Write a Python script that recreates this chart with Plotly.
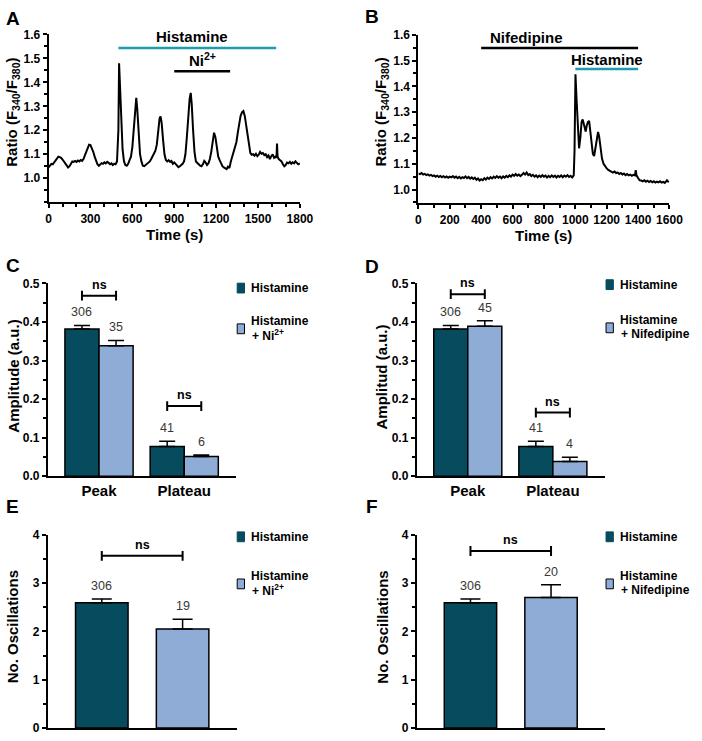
import plotly.graph_objects as go

W, H = 702, 741
FONT = 'Liberation Sans'
DARK = '#074b5e'
LIGHT = '#8eacd6'
TEAL = '#1f9db0'
GRAY = '#383838'

# ---------------- Panel A trace (Histamine + Ni2+) ----------------
a_time = [0, 10, 20, 30, 40, 50, 60, 70, 80, 90, 100, 110, 120, 130, 140, 150, 160, 170, 180, 190,
          200, 210, 220, 230, 240, 250, 260, 270, 280, 290, 300, 310, 320, 330, 340, 350, 360, 370, 380, 390,
          400, 410, 420, 430, 440, 450, 460, 470, 480, 490, 500, 505, 512, 520, 530, 540, 550, 560, 570, 580,
          590, 600, 610, 620, 628, 635, 645, 655, 665, 675, 685, 695, 705, 715, 725, 735, 745, 755, 765, 775,
          785, 795, 802, 810, 820, 830, 840, 850, 860, 870, 880, 890, 900, 910, 920, 930, 940, 950, 960, 970,
          980, 990, 1000, 1010, 1018, 1025, 1035, 1045, 1055, 1065, 1075, 1085, 1095, 1105, 1115, 1125, 1135, 1145, 1155, 1165,
          1175, 1185, 1195, 1205, 1215, 1225, 1235, 1245, 1255, 1265, 1275, 1285, 1295, 1305, 1315, 1325, 1335, 1345, 1355, 1365,
          1375, 1385, 1395, 1405, 1415, 1425, 1435, 1445, 1455, 1465, 1475, 1485, 1495, 1505, 1515, 1525, 1535, 1545, 1555, 1565,
          1575, 1585, 1595, 1605, 1615, 1625, 1632, 1636, 1640, 1648, 1658, 1668, 1678, 1688, 1698, 1708, 1718, 1728, 1738, 1748,
          1758, 1768, 1778, 1788, 1800]
a_ratio = [1.045, 1.055, 1.060, 1.058, 1.066, 1.072, 1.080, 1.090, 1.088, 1.085, 1.078, 1.070, 1.062, 1.055, 1.045, 1.050, 1.058, 1.070, 1.068, 1.072,
           1.068, 1.074, 1.070, 1.076, 1.072, 1.080, 1.095, 1.110, 1.125, 1.140, 1.138, 1.125, 1.110, 1.090, 1.072, 1.058, 1.052, 1.058, 1.063, 1.060,
           1.066, 1.062, 1.068, 1.064, 1.058, 1.062, 1.055, 1.060, 1.058, 1.070, 1.200, 1.480, 1.380, 1.220, 1.120, 1.070, 1.055, 1.052, 1.060, 1.075,
           1.090, 1.130, 1.200, 1.290, 1.335, 1.290, 1.170, 1.100, 1.070, 1.052, 1.050, 1.055, 1.060, 1.068, 1.070, 1.080, 1.090, 1.100, 1.115, 1.140,
           1.200, 1.250, 1.258, 1.230, 1.160, 1.100, 1.076, 1.070, 1.075, 1.068, 1.072, 1.060, 1.066, 1.058, 1.052, 1.046, 1.050, 1.055, 1.060, 1.070,
           1.100, 1.170, 1.260, 1.330, 1.356, 1.310, 1.200, 1.110, 1.070, 1.062, 1.058, 1.052, 1.050, 1.058, 1.072, 1.065, 1.055, 1.062, 1.080, 1.110,
           1.160, 1.190, 1.170, 1.120, 1.090, 1.075, 1.062, 1.050, 1.045, 1.040, 1.038, 1.048, 1.042, 1.070, 1.090, 1.100, 1.120, 1.150, 1.190, 1.230,
           1.260, 1.275, 1.280, 1.260, 1.220, 1.170, 1.130, 1.105, 1.098, 1.100, 1.094, 1.102, 1.092, 1.098, 1.110, 1.102, 1.105, 1.096, 1.100, 1.088,
           1.095, 1.080, 1.092, 1.100, 1.085, 1.090, 1.085, 1.145, 1.090, 1.080, 1.075, 1.070, 1.058, 1.050, 1.055, 1.065, 1.062, 1.068, 1.060, 1.066,
           1.062, 1.070, 1.064, 1.058, 1.062]
a_hist_period = [500, 1630]
a_ni_period = [900, 1300]
a_hist_level = 1.544
a_ni_level = 1.446

# ---------------- Panel B trace (Nifedipine + Histamine) ----------------
b_time = [0, 10, 20, 30, 40, 50, 60, 70, 80, 90, 100, 110, 120, 130, 140, 150, 160, 170, 180, 190,
          200, 210, 220, 230, 240, 250, 260, 270, 280, 290, 300, 310, 320, 330, 340, 350, 360, 370, 380, 390,
          400, 410, 420, 430, 440, 450, 460, 470, 480, 490, 500, 510, 520, 530, 540, 550, 560, 570, 580, 590,
          600, 610, 620, 630, 640, 650, 660, 670, 680, 690, 700, 710, 720, 730, 740, 750, 760, 770, 780, 790,
          800, 810, 820, 830, 840, 850, 860, 870, 880, 890, 900, 910, 920, 930, 940, 950, 960, 970, 980, 990,
          995, 1001, 1008, 1016, 1024, 1032, 1040, 1047, 1054, 1060, 1066, 1072, 1080, 1088, 1095, 1104, 1112, 1120, 1128, 1136,
          1145, 1152, 1160, 1170, 1180, 1190, 1200, 1210, 1220, 1230, 1240, 1250, 1260, 1270, 1280, 1290, 1300, 1310, 1320, 1330,
          1340, 1350, 1360, 1370, 1380, 1385, 1390, 1400, 1410, 1420, 1430, 1440, 1450, 1460, 1470, 1480, 1490, 1500, 1510, 1520,
          1530, 1540, 1550, 1560, 1570, 1580, 1585, 1590, 1595]
b_ratio = [1.062, 1.060, 1.064, 1.058, 1.061, 1.056, 1.059, 1.054, 1.057, 1.052, 1.055, 1.050, 1.054, 1.049, 1.053, 1.048, 1.052, 1.047, 1.051, 1.046,
           1.050, 1.047, 1.052, 1.046, 1.050, 1.044, 1.049, 1.043, 1.048, 1.045, 1.051, 1.044, 1.049, 1.042, 1.047, 1.041, 1.046, 1.038, 1.043, 1.035,
           1.040, 1.036, 1.044, 1.039, 1.046, 1.041, 1.048, 1.043, 1.050, 1.045, 1.052, 1.046, 1.050, 1.044, 1.051, 1.046, 1.053, 1.048, 1.055, 1.050,
           1.058, 1.053, 1.060, 1.054, 1.058, 1.052, 1.057, 1.064, 1.058, 1.066, 1.056, 1.060, 1.052, 1.057, 1.050, 1.055, 1.048, 1.054, 1.049, 1.056,
           1.050, 1.054, 1.047, 1.053, 1.048, 1.055, 1.049, 1.054, 1.047, 1.053, 1.049, 1.055, 1.048, 1.054, 1.050, 1.056, 1.049, 1.053, 1.047, 1.055,
           1.150, 1.447, 1.350, 1.220, 1.160, 1.200, 1.262, 1.272, 1.250, 1.230, 1.225, 1.245, 1.262, 1.266, 1.220, 1.170, 1.138, 1.130, 1.160, 1.200,
           1.223, 1.205, 1.160, 1.120, 1.100, 1.090, 1.082, 1.076, 1.072, 1.068, 1.066, 1.070, 1.064, 1.066, 1.060, 1.064, 1.058, 1.062, 1.056, 1.060,
           1.055, 1.058, 1.053, 1.057, 1.055, 1.075, 1.055, 1.045, 1.036, 1.035, 1.032, 1.036, 1.030, 1.034, 1.029, 1.033, 1.028, 1.032, 1.027, 1.031,
           1.028, 1.032, 1.027, 1.030, 1.026, 1.033, 1.038, 1.030, 1.034]
b_nif_period = [400, 1400]
b_hist_period = [1000, 1400]
b_nif_level = 1.549
b_hist_level = 1.467

# ---------------- Panels C / D (amplitudes) ----------------
amp_categories = ['Peak', 'Plateau']
c_hist_mean = [0.382, 0.077]
c_hist_se = [0.009, 0.014]
c_hist_n = [306, 41]
c_ni_mean = [0.338, 0.051]
c_ni_se = [0.014, 0.004]
c_ni_n = [35, 6]
c_ns_level = [0.468, 0.182]

d_hist_mean = [0.382, 0.077]
d_hist_se = [0.009, 0.014]
d_hist_n = [306, 41]
d_nif_mean = [0.389, 0.038]
d_nif_se = [0.014, 0.011]
d_nif_n = [45, 4]
d_ns_level = [0.472, 0.165]

# ---------------- Panels E / F (number of oscillations) ----------------
e_mean = [2.59, 2.05]
e_se = [0.08, 0.20]
e_n = [306, 19]
e_ns_level = 3.56

f_mean = [2.59, 2.70]
f_se = [0.08, 0.26]
f_n = [306, 20]
f_ns_level = 3.66


def pxx(x):
    return x / W


def pxy(y):
    return 1 - y / H


def xdom(a, b):
    return [pxx(a), pxx(b)]


def ydom(bottom, top):
    return [pxy(bottom), pxy(top)]


fig = go.Figure()
annotations = []
shapes = []

def txt(x, y, text, size=15, bold=True, color='black', angle=0, xanchor='center', yanchor='middle',
        xref='paper', yref='paper', yshift=0):
    if xref == 'paper':
        x = pxx(x)
    if yref == 'paper':
        y = pxy(y)
    annotations.append(dict(x=x, y=y, xref=xref, yref=yref, text=text, showarrow=False,
                            textangle=angle, xanchor=xanchor, yanchor=yanchor, yshift=yshift,
                            font=dict(family=FONT, size=size, color=color,
                                      weight='bold' if bold else 'normal')))

# --- traces A & B
fig.add_trace(go.Scatter(x=a_time, y=a_ratio, mode='lines', line=dict(color='black', width=2),
                         xaxis='x', yaxis='y', showlegend=False))
fig.add_trace(go.Scatter(x=a_hist_period, y=[a_hist_level] * 2, mode='lines',
                         line=dict(color=TEAL, width=2.5), xaxis='x', yaxis='y', showlegend=False))
fig.add_trace(go.Scatter(x=a_ni_period, y=[a_ni_level] * 2, mode='lines',
                         line=dict(color='black', width=2.5), xaxis='x', yaxis='y', showlegend=False))
txt(1025, a_hist_level, 'Histamine', xref='x', yref='y', yshift=11)
txt(sum(a_ni_period) / 2, a_ni_level, 'Ni<sup>2+</sup>', xref='x', yref='y', yshift=12)

fig.add_trace(go.Scatter(x=b_time, y=b_ratio, mode='lines', line=dict(color='black', width=2),
                         xaxis='x2', yaxis='y2', showlegend=False))
fig.add_trace(go.Scatter(x=b_nif_period, y=[b_nif_level] * 2, mode='lines',
                         line=dict(color='black', width=2.5), xaxis='x2', yaxis='y2', showlegend=False))
fig.add_trace(go.Scatter(x=b_hist_period, y=[b_hist_level] * 2, mode='lines',
                         line=dict(color=TEAL, width=2.5), xaxis='x2', yaxis='y2', showlegend=False))
txt(690, b_nif_level, 'Nifedipine', xref='x2', yref='y2', yshift=10)
txt(sum(b_hist_period) / 2, b_hist_level, 'Histamine', xref='x2', yref='y2', yshift=10)

# --- grouped bars C & D
OFF = 0.2
BW = 0.4
pos = list(range(len(amp_categories)))

def grouped(xa, ya, m1, s1, n1, m2, s2, n2, ns):
    for m, s, c, off in ((m1, s1, DARK, -BW), (m2, s2, LIGHT, 0)):
        fig.add_trace(go.Bar(x=pos, y=m, width=BW, offset=off, marker=dict(color=c, line=dict(color='black', width=1.5)),
                             error_y=dict(type='data', symmetric=False, array=s, arrayminus=[0] * len(s),
                                          color='black', thickness=1.5, width=8),
                             xaxis=xa, yaxis=ya, showlegend=False))
    for i in pos:
        txt(i - OFF, m1[i] + s1[i], str(n1[i]), size=12.5, bold=False, color=GRAY,
            xref=xa, yref=ya, yshift=13)
        txt(i + OFF, m2[i] + s2[i], str(n2[i]), size=12.5, bold=False, color=GRAY,
            xref=xa, yref=ya, yshift=13)
        fig.add_trace(go.Scatter(x=[i - OFF, i + OFF], y=[ns[i]] * 2, mode='lines+markers',
                                 line=dict(color='black', width=2),
                                 marker=dict(symbol='line-ns', size=7, line=dict(color='black', width=2)),
                                 xaxis=xa, yaxis=ya, showlegend=False))
        txt(i, ns[i], 'ns', size=12.5, xref=xa, yref=ya, yshift=11)

grouped('x3', 'y3', c_hist_mean, c_hist_se, c_hist_n, c_ni_mean, c_ni_se, c_ni_n, c_ns_level)
grouped('x4', 'y4', d_hist_mean, d_hist_se, d_hist_n, d_nif_mean, d_nif_se, d_nif_n, d_ns_level)

# --- E & F
def pair(xa, ya, m, s, n, ns):
    xs = list(range(len(m)))
    fig.add_trace(go.Bar(x=xs, y=m, width=0.65, marker=dict(color=[DARK, LIGHT], line=dict(color='black', width=1.5)),
                         error_y=dict(type='data', symmetric=False, array=s, arrayminus=[0] * len(s),
                                      color='black', thickness=1.5, width=10),
                         xaxis=xa, yaxis=ya, showlegend=False))
    for i in xs:
        txt(i, m[i] + s[i], str(n[i]), size=12.5, bold=False, color=GRAY, xref=xa, yref=ya, yshift=13)
    fig.add_trace(go.Scatter(x=[xs[0], xs[-1]], y=[ns] * 2, mode='lines+markers',
                             line=dict(color='black', width=2),
                             marker=dict(symbol='line-ns', size=7, line=dict(color='black', width=2)),
                             xaxis=xa, yaxis=ya, showlegend=False))
    txt((xs[0] + xs[-1]) / 2, ns, 'ns', size=12.5, xref=xa, yref=ya, yshift=11)

pair('x5', 'y5', e_mean, e_se, e_n, e_ns_level)
pair('x6', 'y6', f_mean, f_se, f_n, f_ns_level)

# --- panel letters
for L, x, y in (('A', 10, 12), ('B', 378, 10), ('C', 10, 263), ('D', 378, 264), ('E', 10, 509), ('F', 378, 509)):
    txt(x, y, L, size=19)

# --- axis titles
txt(10, 107, 'Ratio (F<sub>340</sub>/F<sub>380</sub>)', angle=-90)
txt(388, 107, 'Ratio (F<sub>340</sub>/F<sub>380</sub>)', angle=-90)
txt(175.5, 232, 'Time (s)')
txt(554, 233, 'Time (s)')
txt(11, 376, 'Amplitude (a.u.)', angle=-90)
txt(388, 377, 'Amplitud (a.u.)', angle=-90)
txt(9.5, 632, 'No. Oscillations', angle=-90)
txt(388, 632, 'No. Oscillations', angle=-90)

# --- legends
def legend(x0, y1, y2, lines2):
    shapes.append(dict(type='rect', xref='paper', yref='paper', x0=pxx(x0), x1=pxx(x0 + 7.5),
                       y0=pxy(y1 + 5), y1=pxy(y1 - 5), fillcolor=DARK, line=dict(color=DARK, width=1)))
    txt(x0 + 12.5, y1, 'Histamine', size=12, xanchor='left')
    shapes.append(dict(type='rect', xref='paper', yref='paper', x0=pxx(x0), x1=pxx(x0 + 7.5),
                       y0=pxy(y2 + 5), y1=pxy(y2 - 5), fillcolor=LIGHT, line=dict(color='black', width=1)))
    txt(x0 + 12.5, y2 - 8, 'Histamine', size=12, xanchor='left')
    txt(x0 + 13.5, y2 + 6, lines2, size=12, xanchor='left')

legend(240, 286.5, 328, '+ Ni<sup>2+</sup>')
legend(618, 283, 327, '+ Nifedipine')
legend(240, 540, 588, '+ Ni<sup>2+</sup>')
legend(618, 540, 588, '+ Nifedipine')

tickfont = dict(family=FONT, size=12, color='black', weight='bold')
common = dict(showline=True, linecolor='black', linewidth=2, ticks='outside', ticklen=4, tickwidth=1.5,
              tickcolor='black', showgrid=False, zeroline=False, tickfont=tickfont, fixedrange=True)

layout = dict(
    width=W, height=H, margin=dict(l=0, r=0, t=0, b=0), paper_bgcolor='white', plot_bgcolor='white',
    showlegend=False, barmode='overlay',
    xaxis=dict(domain=xdom(46.7, 304.3), anchor='y', range=[0, 1800], tickvals=list(range(0, 1801, 300)),
               minor=dict(ticks='outside', ticklen=3, tickcolor='black', tickwidth=1.5, tickmode='linear', tick0=0, dtick=100),
               **common),
    yaxis=dict(domain=ydom(198.9, 28), anchor='x', range=[0.9, 1.6],
               tickvals=[1.0, 1.1, 1.2, 1.3, 1.4, 1.5, 1.6], tickformat='.1f',
               minor=dict(ticks='outside', ticklen=3, tickcolor='black', tickwidth=1.5, tickmode='linear', tick0=0.9, dtick=0.05),
               **common),
    xaxis2=dict(domain=xdom(425.7, 683), anchor='y2', range=[0, 1600], tickvals=list(range(0, 1601, 200)),
                minor=dict(ticks='outside', ticklen=3, tickcolor='black', tickwidth=1.5, tickmode='linear', tick0=0, dtick=100),
                **common),
    yaxis2=dict(domain=ydom(200, 28.3), anchor='x2', range=[0.947, 1.6],
                tickvals=[1.0, 1.1, 1.2, 1.3, 1.4, 1.5, 1.6], tickformat='.1f',
                minor=dict(ticks='outside', ticklen=3, tickcolor='black', tickwidth=1.5, tickmode='linear', tick0=0.95, dtick=0.05),
                **common),
)
bar_x = dict(showline=True, linecolor='black', linewidth=2, ticks='', showgrid=False, zeroline=False, fixedrange=True)
amp_y = dict(range=[0, 0.5], tickvals=[0, 0.1, 0.2, 0.3, 0.4, 0.5], tickformat='.1f',
             minor=dict(ticks='outside', ticklen=3, tickcolor='black', tickwidth=1.5, tickmode='linear', tick0=0, dtick=0.05),
             **common)
osc_y = dict(range=[0, 4], tickvals=[0, 1, 2, 3, 4],
             minor=dict(ticks='outside', ticklen=3, tickcolor='black', tickwidth=1.5, tickmode='linear', tick0=0, dtick=0.5),
             **common)
cat_font = dict(family=FONT, size=15, color='black', weight='bold')
layout['xaxis3'] = dict(domain=xdom(46, 239), anchor='y3', range=[-0.6, 1.61], tickvals=pos, ticktext=amp_categories,
                        tickfont=cat_font, **bar_x)
layout['yaxis3'] = dict(domain=ydom(478.3, 281.7), anchor='x3', **amp_y)
layout['xaxis4'] = dict(domain=xdom(424, 616.7), anchor='y4', range=[-0.6, 1.61], tickvals=pos, ticktext=amp_categories,
                        tickfont=cat_font, **bar_x)
layout['yaxis4'] = dict(domain=ydom(478.3, 281.7), anchor='x4', **amp_y)
layout['xaxis5'] = dict(domain=xdom(46, 239.3), anchor='y5', range=[-0.667, 1.667], showticklabels=False, **bar_x)
layout['yaxis5'] = dict(domain=ydom(735, 537.7), anchor='x5', **osc_y)
layout['xaxis6'] = dict(domain=xdom(424, 616.7), anchor='y6', range=[-0.667, 1.667], showticklabels=False, **bar_x)
layout['yaxis6'] = dict(domain=ydom(735, 537.7), anchor='x6', **osc_y)
layout['annotations'] = annotations
layout['shapes'] = shapes

fig.update_layout(**layout)
fig.write_html('out.html', config={'displayModeBar': False},
               post_script="document.body.style.margin='0px';")
